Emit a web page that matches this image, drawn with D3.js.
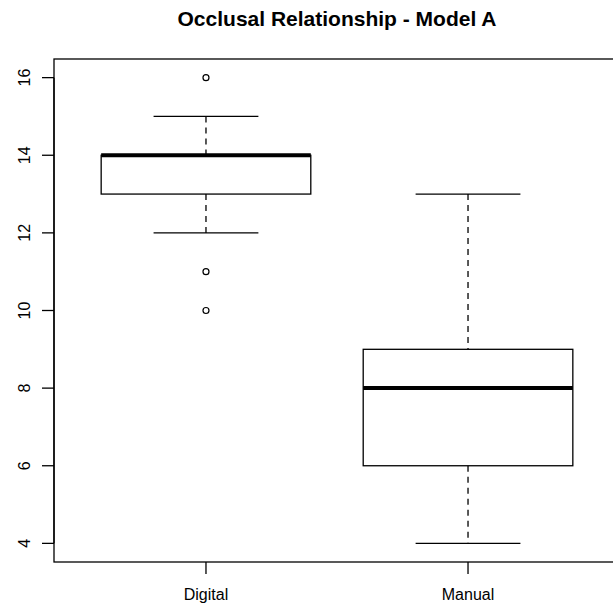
<!DOCTYPE html>
<html>
<head>
<meta charset="utf-8">
<script src="https://cdn.jsdelivr.net/npm/d3@7"></script>
<style>
  body { margin: 0; background: #fff; }
  svg { display: block; font-family: "Liberation Sans", Arial, sans-serif; }
</style>
</head>
<body>
<div class="chart"></div>
<script>
// box summaries
var groups = ["Digital", "Manual"];
var lowWhisker = [12, 4];
var q1 = [13, 6];
var medians = [14, 8];
var q3 = [14, 9];
var highWhisker = [15, 13];
var outliers = [[16, 11, 10], []];
var yTicks = [4, 6, 8, 10, 12, 14, 16];

var width = 613,
    height = 612;

var svg = d3.select(".chart")
  .append("svg")
  .attr("width", width)
  .attr("height", height);

// R pads the axis range by 4% on each side
var x = d3.scaleLinear().domain([0.42, 2.58]).range([54, 620]);
var y = d3.scaleLinear().domain([3.52, 16.48]).range([562, 59]);

var boxes = groups.map(function(g, i) {
  return {name: g, pos: i + 1, lo: lowWhisker[i], q1: q1[i], med: medians[i],
          q3: q3[i], hi: highWhisker[i], out: outliers[i]};
});

// plot frame
svg.append("rect")
  .attr("x", x(0.42)).attr("y", y(16.48))
  .attr("width", x(2.58) - x(0.42))
  .attr("height", y(3.52) - y(16.48))
  .attr("fill", "none").attr("stroke", "#000").attr("stroke-width", 1.3);

// y axis, labels turned like R does
var yAxis = svg.append("g").attr("transform", "translate(" + x(0.42) + ",0)");
yAxis.append("line")
  .attr("y1", y(yTicks[0])).attr("y2", y(yTicks[yTicks.length - 1]))
  .attr("stroke", "#000").attr("stroke-width", 1.3);
yAxis.selectAll(".tick").data(yTicks).enter()
  .append("line")
  .attr("x1", -12).attr("x2", 0)
  .attr("y1", function(d) { return y(d); })
  .attr("y2", function(d) { return y(d); })
  .attr("stroke", "#000").attr("stroke-width", 1.3);
yAxis.selectAll("text").data(yTicks).enter()
  .append("text")
  .attr("transform", function(d) { return "translate(-24," + y(d) + ") rotate(-90)"; })
  .attr("text-anchor", "middle")
  .attr("font-size", 16)
  .text(function(d) { return d; });

// x axis
var xAxis = svg.append("g").attr("transform", "translate(0," + y(3.52) + ")");
xAxis.selectAll("line").data(boxes).enter()
  .append("line")
  .attr("x1", function(d) { return x(d.pos); })
  .attr("x2", function(d) { return x(d.pos); })
  .attr("y1", 0).attr("y2", 12)
  .attr("stroke", "#000").attr("stroke-width", 1.3);
xAxis.selectAll("text").data(boxes).enter()
  .append("text")
  .attr("x", function(d) { return x(d.pos); })
  .attr("y", 38)
  .attr("text-anchor", "middle")
  .attr("font-size", 16)
  .text(function(d) { return d.name; });

// boxes
var b = svg.selectAll(".box").data(boxes).enter()
  .append("g").attr("class", "box");

b.append("line")
  .attr("x1", function(d) { return x(d.pos); })
  .attr("x2", function(d) { return x(d.pos); })
  .attr("y1", function(d) { return y(d.hi); })
  .attr("y2", function(d) { return y(d.q3); })
  .attr("stroke", "#000").attr("stroke-width", 1.3)
  .attr("stroke-dasharray", "6,5");
b.append("line")
  .attr("x1", function(d) { return x(d.pos); })
  .attr("x2", function(d) { return x(d.pos); })
  .attr("y1", function(d) { return y(d.q1); })
  .attr("y2", function(d) { return y(d.lo); })
  .attr("stroke", "#000").attr("stroke-width", 1.3)
  .attr("stroke-dasharray", "6,5");

// whisker caps
["hi", "lo"].forEach(function(k) {
  b.append("line")
    .attr("x1", function(d) { return x(d.pos - 0.2); })
    .attr("x2", function(d) { return x(d.pos + 0.2); })
    .attr("y1", function(d) { return y(d[k]); })
    .attr("y2", function(d) { return y(d[k]); })
    .attr("stroke", "#000").attr("stroke-width", 1.3);
});

b.append("rect")
  .attr("x", function(d) { return x(d.pos - 0.4); })
  .attr("y", function(d) { return y(d.q3); })
  .attr("width", function(d) { return x(d.pos + 0.4) - x(d.pos - 0.4); })
  .attr("height", function(d) { return y(d.q1) - y(d.q3); })
  .attr("fill", "#fff").attr("stroke", "#000").attr("stroke-width", 1.3);

b.append("line")
  .attr("x1", function(d) { return x(d.pos - 0.4); })
  .attr("x2", function(d) { return x(d.pos + 0.4); })
  .attr("y1", function(d) { return y(d.med); })
  .attr("y2", function(d) { return y(d.med); })
  .attr("stroke", "#000").attr("stroke-width", 4);

b.selectAll("circle").data(function(d) {
    return d.out.map(function(v) { return {pos: d.pos, v: v}; });
  }).enter()
  .append("circle")
  .attr("cx", function(d) { return x(d.pos); })
  .attr("cy", function(d) { return y(d.v); })
  .attr("r", 3)
  .attr("fill", "none").attr("stroke", "#000").attr("stroke-width", 1.2);

// title
svg.append("text")
  .attr("x", (x(0.42) + x(2.58)) / 2)
  .attr("y", 26)
  .attr("text-anchor", "middle")
  .attr("font-size", 21)
  .attr("font-weight", "bold")
  .text("Occlusal Relationship - Model A");
</script>
</body>
</html>
